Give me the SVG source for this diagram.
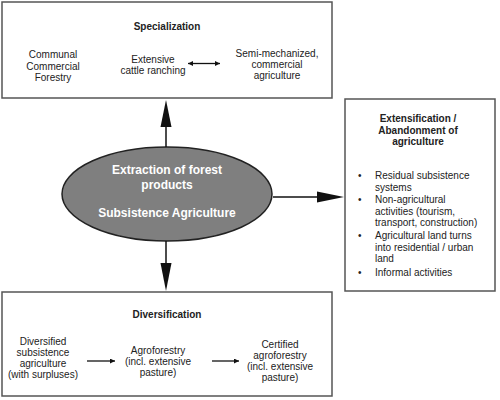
<svg xmlns="http://www.w3.org/2000/svg" width="500" height="400" viewBox="0 0 500 400">
<defs>
<style>
.box{fill:#fff;stroke:#555;stroke-width:1.5}
.t{font-family:"Liberation Sans",Arial,sans-serif;font-size:10px;fill:#222}
.c{text-anchor:middle}
.b{font-weight:bold}
.et{font-family:"Liberation Sans",Arial,sans-serif;font-size:12px;font-weight:bold;fill:#fff;text-anchor:middle}
.big{stroke:#111;stroke-width:1.5;fill:none}
.sm{stroke:#111;stroke-width:1.3;fill:none}
</style>
<marker id="ah" viewBox="0 0 10 10" refX="10" refY="5" markerWidth="6" markerHeight="5" markerUnits="userSpaceOnUse" orient="auto-start-reverse">
<path d="M0,0 L10,5 L0,10 Z" fill="#111"/>
</marker>
</defs>
<rect width="500" height="400" fill="#fff"/>

<g id="specialization">
<rect class="box" x="2" y="2" width="330" height="96"/>
<text class="t c b" x="167" y="30">Specialization</text>
<text class="t c" x="53" y="58">Communal</text>
<text class="t c" x="53" y="70">Commercial</text>
<text class="t c" x="53" y="81">Forestry</text>
<text class="t c" x="153" y="63">Extensive</text>
<text class="t c" x="153" y="74">cattle ranching</text>
<text class="t c" x="277" y="57">Semi-mechanized,</text>
<text class="t c" x="277" y="68">commercial</text>
<text class="t c" x="277" y="79">agriculture</text>
</g>

<g id="extensification">
<rect class="box" x="345" y="99" width="150" height="192"/>
<text class="t c b" x="418" y="122">Extensification /</text>
<text class="t c b" x="418" y="133.5">Abandonment of</text>
<text class="t c b" x="418" y="145">agriculture</text>
<g class="t">
<text x="358" y="179">•</text><text x="375" y="179">Residual subsistence</text>
<text x="375" y="190.5">systems</text>
<text x="358" y="203">•</text><text x="375" y="203">Non-agricultural</text>
<text x="375" y="214.5">activities (tourism,</text>
<text x="375" y="226">transport, construction)</text>
<text x="358" y="239">•</text><text x="375" y="239">Agricultural land turns</text>
<text x="375" y="250.5">into residential / urban</text>
<text x="375" y="262">land</text>
<text x="358" y="276">•</text><text x="375" y="276">Informal activities</text>
</g>
</g>

<g id="diversification">
<rect class="box" x="2" y="292" width="330" height="104"/>
<text class="t c b" x="167" y="318">Diversification</text>
<text class="t c" x="43" y="345">Diversified</text>
<text class="t c" x="43" y="356">subsistence</text>
<text class="t c" x="43" y="367">agriculture</text>
<text class="t c" x="43" y="378">(with surpluses)</text>
<text class="t c" x="158" y="354">Agroforestry</text>
<text class="t c" x="158" y="365">(incl. extensive</text>
<text class="t c" x="158" y="376">pasture)</text>
<text class="t c" x="280" y="348">Certified</text>
<text class="t c" x="280" y="359">agroforestry</text>
<text class="t c" x="280" y="370">(incl. extensive</text>
<text class="t c" x="280" y="381">pasture)</text>
</g>

<g id="core">
<ellipse cx="167" cy="194" rx="105" ry="47" fill="#7f7f7f" stroke="#222" stroke-width="1.5"/>
<text class="et" x="167" y="174">Extraction of forest</text>
<text class="et" x="167" y="189">products</text>
<text class="et" x="167" y="217">Subsistence Agriculture</text>
</g>

<g id="connectors">
<line class="big" x1="166" y1="147" x2="166" y2="126"/>
<polygon points="166,100 160.5,127 171.5,127" fill="#111"/>
<line class="big" x1="166" y1="241" x2="166" y2="264"/>
<polygon points="166,291 160.5,263 171.5,263" fill="#111"/>
<line class="big" x1="273" y1="197" x2="318" y2="197"/>
<polygon points="344,197 317,191.5 317,202.5" fill="#111"/>
<line class="sm" x1="188" y1="63.5" x2="220" y2="63.5" marker-start="url(#ah)" marker-end="url(#ah)"/>
<line class="sm" x1="87" y1="361" x2="115" y2="361" marker-end="url(#ah)"/>
<line class="sm" x1="212" y1="361" x2="239" y2="361" marker-end="url(#ah)"/>
</g>
</svg>
